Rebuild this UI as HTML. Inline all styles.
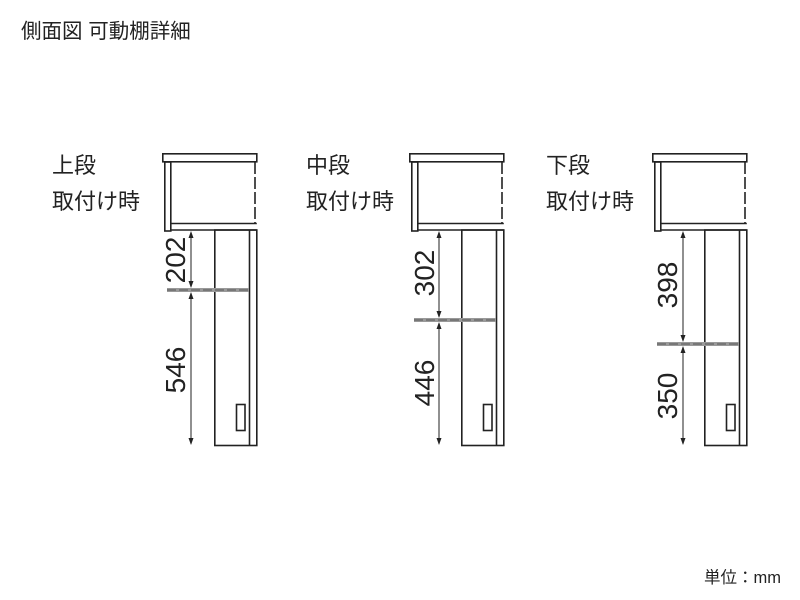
<!DOCTYPE html>
<html><head><meta charset="utf-8"><style>
body{margin:0;background:#fff;}
svg{display:block;font-family:"Liberation Sans","Noto Sans CJK JP",sans-serif;}
</style></head><body>
<svg width="800" height="600" viewBox="0 0 800 600" xmlns="http://www.w3.org/2000/svg">
<defs>
<g id="unit" fill="none" stroke="#222" stroke-width="1.6">
  <rect x="0.8" y="153.8" width="94" height="8" fill="#fff"/>
  <rect x="2.8" y="162" width="6" height="69"/>
  <line x1="8.8" y1="223.5" x2="94.8" y2="223.5"/>
  <line x1="8.8" y1="230" x2="94.8" y2="230"/>
  <line x1="93" y1="162" x2="93" y2="223" stroke-dasharray="12,3"/>
  <rect x="52.8" y="230" width="42" height="215.5"/>
  <line x1="87.5" y1="230" x2="87.5" y2="445"/>
  <rect x="74.5" y="404.5" width="8.5" height="26"/>
</g>
</defs>
<text x="21" y="38" font-size="20.5" fill="#222">側面図 可動棚詳細</text>

<g transform="translate(162,0)">
  <use href="#unit"/>
  <line x1="5" y1="290" x2="87" y2="290" stroke="#999" stroke-width="4"/>
  <line x1="5" y1="290" x2="87" y2="290" stroke="#555" stroke-width="1" stroke-dasharray="9,3"/>
  <g stroke="#222" stroke-width="1">
    <line x1="29" y1="233" x2="29" y2="287"/><line x1="29" y1="293" x2="29" y2="444"/>
  </g>
  <g fill="#222"><path d="M29,231 l-2.5,7 h5z"/><path d="M29,288 l-2.5,-7 h5z"/><path d="M29,292 l-2.5,7 h5z"/><path d="M29,445 l-2.5,-7 h5z"/></g>
</g>
<text x="52" y="173" font-size="22" fill="#222">上段</text>
<text x="52" y="209" font-size="22" fill="#222">取付け時</text>
<text transform="translate(185,260) rotate(-90)" font-size="28" text-anchor="middle" fill="#222">202</text>
<text transform="translate(185,370) rotate(-90)" font-size="28" text-anchor="middle" fill="#222">546</text>

<g transform="translate(409,0)">
  <use href="#unit"/>
  <line x1="5" y1="320" x2="87" y2="320" stroke="#999" stroke-width="4"/>
  <line x1="5" y1="320" x2="87" y2="320" stroke="#555" stroke-width="1" stroke-dasharray="9,3"/>
  <g stroke="#222" stroke-width="1">
    <line x1="30" y1="233" x2="30" y2="317"/><line x1="30" y1="323" x2="30" y2="444"/>
  </g>
  <g fill="#222"><path d="M30,231 l-2.5,7 h5z"/><path d="M30,318 l-2.5,-7 h5z"/><path d="M30,322 l-2.5,7 h5z"/><path d="M30,445 l-2.5,-7 h5z"/></g>
</g>
<text x="306" y="173" font-size="22" fill="#222">中段</text>
<text x="306" y="209" font-size="22" fill="#222">取付け時</text>
<text transform="translate(434,273) rotate(-90)" font-size="28" text-anchor="middle" fill="#222">302</text>
<text transform="translate(434,383) rotate(-90)" font-size="28" text-anchor="middle" fill="#222">446</text>

<g transform="translate(652,0)">
  <use href="#unit"/>
  <line x1="5" y1="344" x2="87" y2="344" stroke="#999" stroke-width="4"/>
  <line x1="5" y1="344" x2="87" y2="344" stroke="#555" stroke-width="1" stroke-dasharray="9,3"/>
  <g stroke="#222" stroke-width="1">
    <line x1="31" y1="233" x2="31" y2="341"/><line x1="31" y1="347" x2="31" y2="444"/>
  </g>
  <g fill="#222"><path d="M31,231 l-2.5,7 h5z"/><path d="M31,342 l-2.5,-7 h5z"/><path d="M31,346 l-2.5,7 h5z"/><path d="M31,445 l-2.5,-7 h5z"/></g>
</g>
<text x="546" y="173" font-size="22" fill="#222">下段</text>
<text x="546" y="209" font-size="22" fill="#222">取付け時</text>
<text transform="translate(677,285) rotate(-90)" font-size="28" text-anchor="middle" fill="#222">398</text>
<text transform="translate(677,396) rotate(-90)" font-size="28" text-anchor="middle" fill="#222">350</text>

<text x="704" y="583" font-size="16.5" fill="#222">単位：mm</text>
</svg>
</body></html>
